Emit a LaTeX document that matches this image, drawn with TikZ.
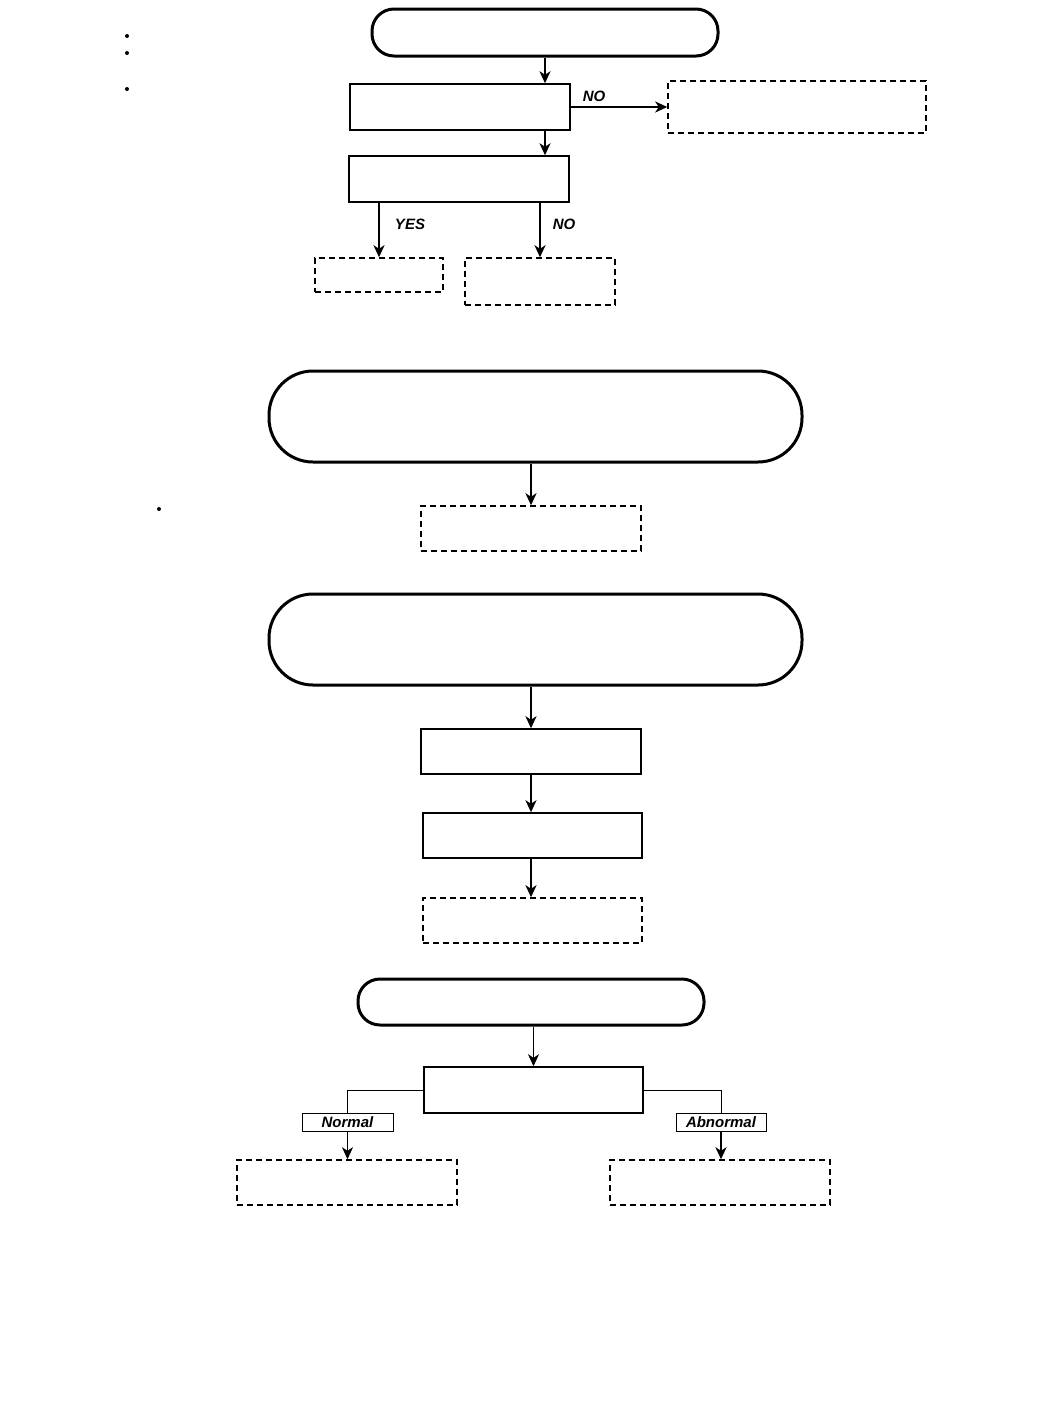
\documentclass[tikz,border=0pt]{standalone}
\usepackage{fontspec}
\setmainfont{Liberation Sans}
\usetikzlibrary{arrows.meta}

\begin{document}
\begin{tikzpicture}[x=1pt,y=-1pt,font=\fontsize{15}{17}\selectfont\bfseries\itshape,
  >={Stealth[length=12pt,width=11pt,inset=3.5pt]},
  terminal/.style={draw,line width=3pt,rounded corners=#1,inner sep=0pt},
  caja/.style={draw,line width=1.5pt,inner sep=0pt},
  discontinua/.style={draw,line width=1.5pt,dash pattern=on 6pt off 4pt,inner sep=0pt},
  etiqueta/.style={draw,line width=1pt,inner sep=0pt,minimum height=18pt},
  flecha/.style={->,line width=2pt},
  flechafina/.style={->,line width=1.3pt}]
  \useasboundingbox (0,0) rectangle (1048,1409);

  % Viñetas sueltas a la izquierda.
  \fill (127,36) circle (2);
  \fill (127,53) circle (2);
  \fill (127,89) circle (2);
  \fill (159,509) circle (2);

  % Primer bloque: decisiones con salidas SI / NO.
  \node[terminal=22pt,minimum width=346pt,minimum height=47pt] (t1) at (545,32.5) {};
  \node[caja,minimum width=220pt,minimum height=46pt] (b1) at (460,107) {};
  \node[discontinua,minimum width=258pt,minimum height=52pt] (d1) at (797,107) {};
  \node[caja,minimum width=220pt,minimum height=46pt] (b2) at (459,179) {};
  \node[discontinua,minimum width=128pt,minimum height=34pt] (d2) at (379,275) {};
  \node[discontinua,minimum width=150pt,minimum height=47pt] (d3) at (540,281.5) {};
  \draw[flechafina] (t1.south) -- (t1.south |- b1.north);
  \draw[flecha] (b1.east) -- (d1.west);
  \node (no1) at (594,96) {NO};
  \draw[flechafina] (b1.south -| t1.south) -- (b2.north -| t1.south);
  \draw[flecha] (b2.south -| d2.north) -- (d2.north);
  \node (si) at (410,224) {YES};
  \draw[flecha] (b2.south -| d3.north) -- (d3.north);
  \node (no2) at (564,224) {NO};

  % Segundo bloque.
  \node[terminal=44pt,minimum width=533pt,minimum height=91pt] (t2) at (535.5,416.5) {};
  \node[discontinua,minimum width=220pt,minimum height=45pt] (d4) at (531,528.5) {};
  \draw[flecha] (t2.south -| d4.north) -- (d4.north);

  % Tercer bloque: secuencia lineal.
  \node[terminal=44pt,minimum width=533pt,minimum height=91pt] (t3) at (535.5,639.5) {};
  \node[caja,minimum width=220pt,minimum height=45pt] (b3) at (531,751.5) {};
  \node[caja,minimum width=219pt,minimum height=45pt] (b4) at (532.5,835.5) {};
  \node[discontinua,minimum width=219pt,minimum height=45pt] (d5) at (532.5,920.5) {};
  \draw[flecha] (t3.south -| b3.north) -- (b3.north);
  \draw[flecha] (b3.south) -- (b3.south |- b4.north);
  \draw[flecha] (b4.south -| b3.south) -- (b3.south |- d5.north);

  % Cuarto bloque: resultado normal / anormal.
  \node[terminal=22pt,minimum width=346pt,minimum height=46pt] (t4) at (531,1002) {};
  \node[caja,minimum width=219pt,minimum height=46pt] (b5) at (533.5,1090) {};
  \node[etiqueta,minimum width=91pt] (normal) at (347.5,1122) {Normal};
  \node[etiqueta,minimum width=90pt] (anormal) at (721,1122) {Abnormal};
  \node[discontinua,minimum width=220pt,minimum height=45pt] (d6) at (347,1182.5) {};
  \node[discontinua,minimum width=220pt,minimum height=45pt] (d7) at (720,1182.5) {};
  \draw[flechafina] (t4.south -| b5.north) -- (b5.north);
  \draw[line width=1pt] (b5.west) -- (b5.west -| normal.north) -- (normal.north);
  \draw[line width=1pt] (b5.east) -- (b5.east -| anormal.north) -- (anormal.north);
  \draw[flechafina] (normal.south) -- (normal.south |- d6.north);
  \draw[flecha] (anormal.south) -- (anormal.south |- d7.north);
\end{tikzpicture}
\end{document}
